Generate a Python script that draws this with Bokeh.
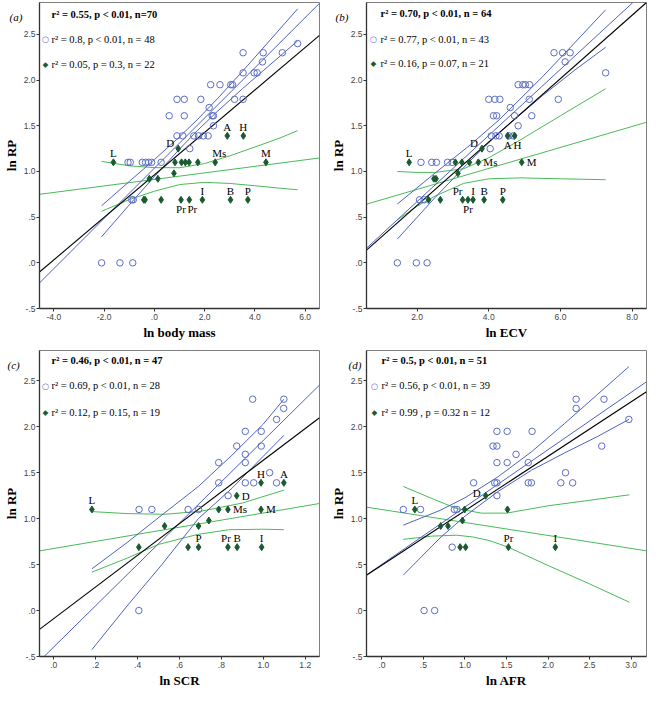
from bokeh.plotting import figure
from bokeh.models import Range1d, FixedTicker, Label, ColumnDataSource, CustomJSTickFormatter
from bokeh.layouts import gridplot
from bokeh.embed import file_html
from bokeh.resources import INLINE
from bokeh.core.properties import value, field

# ------------------------------------------------------------------ data
# Panel (a): ln body mass
A_BLUE_X = [5.70, 3.53, 4.33, 5.09, 4.30, 3.97, 4.09, 3.53, 3.04, 3.11, 2.24, 2.61, 0.90, 1.19, 1.85, 3.19, 3.53,
            0.59, 1.19, 2.30, 2.35, 2.18, 2.35, 0.90, 1.13, 1.57, 1.76, 1.95, 2.14, 1.41,
            -1.05, -0.96, -0.48, -0.35, -0.23, -0.11, 0.27, -0.84, -0.90, -2.10, -1.37, -0.86]
A_BLUE_Y = [2.40, 2.30, 2.30, 2.30, 2.20, 2.08, 2.08, 2.08, 1.95, 1.95, 1.95, 1.95, 1.79, 1.79, 1.79, 1.79, 1.79,
            1.61, 1.61, 1.61, 1.61, 1.70, 1.50, 1.39, 1.39, 1.39, 1.39, 1.39, 1.39, 1.25,
            1.10, 1.10, 1.10, 1.10, 1.10, 1.10, 1.10, 0.69, 0.69, 0.0, 0.0, 0.0]
A_GREEN_X = [-1.63, 0.95, 2.90, 3.54, 2.42, 4.44, 0.82, 1.08, 1.23, 1.38, 1.73, 0.78, -0.20, 0.14,
             -0.42, -0.37, 0.27, 1.06, 1.39, 1.91, 3.03, 3.72]
A_GREEN_Y = [1.10, 1.25, 1.39, 1.39, 1.10, 1.10, 1.10, 1.10, 1.10, 1.10, 1.10, 0.98, 0.92, 0.92,
             0.69, 0.69, 0.69, 0.69, 0.69, 0.69, 0.69, 0.69]
A_LABELS = ["L", "D", "A", "H", "Ms", "M", "", "", "", "", "", "", "", "", "", "", "", "Pr", "Pr", "I", "B", "P"]
A_BLACK_X, A_BLACK_Y = [-4.57, 6.57], [-0.10, 2.49]
A_BFIT_X, A_BFIT_Y = [-4.57, 6.60], [-0.22, 2.85]
A_BCI_X = [-2.10, -1.0, 0.0, 1.0, 1.7, 2.5, 3.5, 4.5, 5.70]
A_BUP_Y = [0.625, 0.89, 1.13, 1.379, 1.565, 1.794, 2.095, 2.406, 2.78]
A_BLO_Y = [0.286, 0.634, 0.944, 1.245, 1.445, 1.656, 1.905, 2.144, 2.43]
A_GFIT_X, A_GFIT_Y = [-4.57, 6.57], [0.75, 1.148]
A_GCI_X = [-2.10, -1.0, 0.0, 1.0, 2.0, 3.0, 4.0, 5.0, 5.70]
A_GUP_Y = [1.11, 1.062, 1.042, 1.041, 1.087, 1.171, 1.268, 1.367, 1.447]
A_GLO_Y = [0.564, 0.692, 0.784, 0.857, 0.881, 0.869, 0.844, 0.817, 0.80]

# Panel (b): ln ECV
B_BLUE_X = [7.26, 5.82, 6.06, 6.27, 6.13, 5.94, 4.82, 4.95, 5.02, 5.14, 5.13, 5.20, 4.60, 4.72, 4.82,
            4.00, 4.17, 4.31, 4.13, 4.22, 4.07, 4.20, 4.29, 4.56, 4.69, 4.04,
            2.11, 2.41, 2.54, 2.85, 2.98, 2.07, 2.20, 1.45, 1.98, 2.28]
B_BLUE_Y = [2.08, 2.30, 2.30, 2.30, 2.20, 1.79, 1.95, 1.95, 1.95, 1.95, 1.79, 1.61, 1.70, 1.61, 1.50,
            1.79, 1.79, 1.79, 1.61, 1.61, 1.39, 1.39, 1.39, 1.39, 1.39, 1.25,
            1.10, 1.10, 1.10, 1.10, 1.10, 0.69, 0.69, 0.0, 0.0, 0.0]
B_GREEN_X = [1.78, 3.81, 4.53, 4.72, 3.71, 4.92, 3.07, 3.25, 3.46, 3.14, 2.47, 2.53, 2.32, 2.65,
             3.27, 3.42, 3.56, 3.87, 4.39]
B_GREEN_Y = [1.10, 1.25, 1.39, 1.39, 1.10, 1.10, 1.10, 1.10, 1.10, 0.98, 0.92, 0.92, 0.69, 0.69,
             0.69, 0.69, 0.69, 0.69, 0.69]
B_LABELS = ["L", "D", "A", "H", "Ms", "M", "", "", "", "", "", "", "", "", "Pr", "Pr", "I", "B", "P"]
B_BLACK_X, B_BLACK_Y = [0.59, 8.40], [0.14, 2.85]
B_BFIT_X, B_BFIT_Y = [0.59, 8.02], [0.16, 2.85]
B_BCI_X = [1.45, 2.5, 3.5, 4.3, 5.5, 6.4, 7.26]
B_BUP_Y = [0.644, 0.982, 1.296, 1.569, 2.037, 2.41, 2.77]
B_BLO_Y = [0.26, 0.714, 1.124, 1.429, 1.831, 2.11, 2.36]
B_GFIT_X, B_GFIT_Y = [0.59, 8.40], [0.642, 1.539]
B_GCI_X = [1.45, 2.0, 2.5, 3.3, 4.0, 4.9, 6.0, 7.26]
B_GUP_Y = [1.0, 0.99, 0.99, 1.03, 1.15, 1.35, 1.61, 1.906]
B_GLO_Y = [0.47, 0.62, 0.73, 0.87, 0.92, 0.93, 0.92, 0.91]

# Panel (c): ln SCR
C_BLUE_X = [1.098, 1.097, 1.063, 0.949, 0.914, 0.990, 0.873, 0.990, 0.914, 0.787, 0.914,
            0.787, 0.914, 0.954, 1.030, 1.063, 0.832, 0.407, 0.468, 0.641, 0.691, 0.406]
C_BLUE_Y = [2.30, 2.20, 2.08, 2.30, 1.95, 1.95, 1.79, 1.79, 1.70, 1.61, 1.61,
            1.39, 1.39, 1.39, 1.50, 1.39, 1.25, 1.10, 1.10, 1.10, 1.10, 0.0]
C_GREEN_X = [0.182, 0.989, 1.098, 0.873, 0.831, 0.787, 0.989, 0.740, 0.529, 0.691,
             0.406, 0.641, 0.691, 0.831, 0.875, 0.992]
C_GREEN_Y = [1.10, 1.39, 1.39, 1.25, 1.10, 1.10, 1.10, 0.98, 0.92, 0.92,
             0.69, 0.69, 0.69, 0.69, 0.69, 0.69]
C_LABELS = ["L", "H", "A", "D", "Ms", "", "M", "", "", "", "", "", "P", "Pr", "B", "I"]
C_BLACK_X, C_BLACK_Y = [-0.068, 1.268], [-0.205, 2.098]
C_BFIT_X, C_BFIT_Y = [-0.046, 1.268], [-0.5, 2.454]
C_BCI_X = [0.182, 0.35, 0.516, 0.69, 0.85, 1.0, 1.098]
C_BUP_Y = [0.454, 0.74, 1.04, 1.35, 1.69, 2.03, 2.30]
C_BLO_Y = [-0.425, 0.05, 0.50, 1.0, 1.33, 1.68, 1.906]
C_GFIT_X, C_GFIT_Y = [-0.068, 1.268], [0.649, 1.165]
C_GUP_X = [0.182, 0.35, 0.53, 0.7, 0.9, 1.098]
C_GUP_Y = [1.077, 1.055, 1.048, 1.08, 1.17, 1.31]
C_GLO_X = [0.182, 0.35, 0.5, 0.684, 0.835, 1.0, 1.098]
C_GLO_Y = [0.418, 0.57, 0.72, 0.827, 0.88, 0.885, 0.88]

# Panel (d): ln AFR
D_BLUE_X = [2.338, 2.673, 2.338, 2.973, 2.646, 1.385, 1.508, 1.808, 1.338, 1.385, 1.615, 1.385, 1.508, 1.762,
            2.210, 1.104, 1.358, 1.385, 1.762, 1.800, 2.154, 2.296, 1.385, 0.258, 0.465, 0.873, 0.904,
            0.846, 0.508, 0.635]
D_BLUE_Y = [2.30, 2.30, 2.20, 2.08, 1.79, 1.95, 1.95, 1.95, 1.79, 1.79, 1.70, 1.61, 1.61, 1.61,
            1.50, 1.39, 1.39, 1.39, 1.39, 1.39, 1.39, 1.39, 1.25, 1.10, 1.10, 1.10, 1.10,
            0.69, 0.0, 0.0]
D_GREEN_X = [0.396, 1.250, 0.996, 1.512, 0.970, 0.708, 0.796, 0.942, 1.008, 1.523, 2.088]
D_GREEN_Y = [1.10, 1.25, 1.10, 1.10, 0.98, 0.92, 0.92, 0.69, 0.69, 0.69, 0.69]
D_LABELS = ["L", "D", "", "", "", "", "", "", "", "Pr", "I"]
D_BLACK_X, D_BLACK_Y = [-0.181, 3.185], [0.386, 2.382]
D_BFIT_X, D_BFIT_Y = [-0.181, 3.185], [0.39, 2.49]
D_BCI_X = [0.258, 0.7, 1.0, 1.4, 1.8, 2.2, 2.6, 2.973]
D_BUP_Y = [0.929, 1.09, 1.227, 1.457, 1.727, 2.036, 2.356, 2.654]
D_BLO_Y = [0.386, 0.79, 1.027, 1.297, 1.527, 1.716, 1.896, 2.08]
D_GFIT_X, D_GFIT_Y = [-0.181, 3.185], [1.125, 0.65]
D_GUP_X = [0.258, 0.6, 0.9, 1.2, 1.5, 2.0, 2.5, 2.98]
D_GUP_Y = [1.35, 1.22, 1.11, 1.06, 1.06, 1.14, 1.20, 1.26]
D_GLO_X = [0.258, 0.6, 0.9, 1.1, 1.3, 1.52, 2.0, 2.5, 2.98]
D_GLO_Y = [0.775, 0.81, 0.82, 0.80, 0.76, 0.69, 0.49, 0.29, 0.09]

# legend / statistics texts
A_STATS = ["r\u00b2 = 0.55, p < 0.01, n=70", "r\u00b2 = 0.8, p < 0.01, n = 48", "r\u00b2 = 0.05, p = 0.3, n = 22"]
B_STATS = ["r\u00b2 = 0.70, p < 0.01, n = 64", "r\u00b2 = 0.77, p < 0.01, n = 43", "r\u00b2 = 0.16, p = 0.07, n = 21"]
C_STATS = ["r\u00b2 = 0.46, p < 0.01, n = 47", "r\u00b2 = 0.69, p < 0.01, n = 28", "r\u00b2 = 0.12, p = 0.15, n = 19"]
D_STATS = ["r\u00b2 = 0.5, p < 0.01, n = 51", "r\u00b2 = 0.56, p < 0.01, n = 39", "r\u00b2 = 0.99 , p = 0.32  n = 12"]

Y_TICKS = [-0.5, 0.0, 0.5, 1.0, 1.5, 2.0, 2.5]
Y_TICK_LABELS = ["-.5", ".0", ".5", "1.0", "1.5", "2.0", "2.5"]
A_XTICKS, A_XLABELS = [-4.0, -2.0, 0.0, 2.0, 4.0, 6.0], ["-4.0", "-2.0", ".0", "2.0", "4.0", "6.0"]
B_XTICKS, B_XLABELS = [2.0, 4.0, 6.0, 8.0], ["2.0", "4.0", "6.0", "8.0"]
C_XTICKS, C_XLABELS = [0.0, 0.2, 0.4, 0.6, 0.8, 1.0, 1.2], [".0", ".2", ".4", ".6", ".8", "1.0", "1.2"]
D_XTICKS, D_XLABELS = [0.0, 0.5, 1.0, 1.5, 2.0, 2.5, 3.0], [".0", ".5", "1.0", "1.5", "2.0", "2.5", "3.0"]

# ------------------------------------------------------------------ styles
BLUE = "#5b6dc6"
BLUE_LINE = "#4f62c0"
GREEN_LINE = "#48bb57"
DGREEN = "#1b5a31"
SERIF = "Liberation Serif"
SANS = "Liberation Sans"
AXIS = "#333333"

# label placement styles: (dx, dy, align, baseline)
STY = {
    "above": (0, -3, "center", "bottom"),
    "above_r": (4, -3, "center", "bottom"),
    "above_l": (-5, -3, "center", "bottom"),
    "above_l2": (-2, -3, "center", "bottom"),
    "below": (0, 3, "center", "top"),
    "below_r": (3, 3, "center", "top"),
    "right": (5, 0, "left", "middle"),
    "left": (-4, -6, "right", "middle"),
    "left2": (-5, -3, "right", "middle"),
}
A_LSTY = ["above", "left", "above", "above", "above_r", "above"] + [""] * 11 + ["below", "below_r", "above", "above", "above"]
B_LSTY = ["above", "left", "below", "below_r", "right", "right"] + [""] * 8 + ["above_l", "below", "above", "above", "above"]
C_LSTY = ["above", "above", "above", "right", "right", "", "right"] + [""] * 5 + ["above", "above_l2", "above", "above"]
D_LSTY = ["above", "left2"] + [""] * 7 + ["above", "above"]

TICK_JS = """
for (let i = 0; i < tv.length; i++) {
    if (Math.abs(tv[i] - tick) < 1e-9) { return tl[i]; }
}
return "";
"""


def tick_formatter(ticks, labels):
    return CustomJSTickFormatter(args=dict(tv=list(ticks), tl=list(labels)), code=TICK_JS)


def make_panel(cfg):
    p = figure(width=cfg["w"], height=cfg["h"],
               x_range=Range1d(*cfg["xr"]), y_range=Range1d(*cfg["yr"]),
               output_backend="svg", toolbar_location=None,
               min_border_left=35, min_border_right=cfg["rb"],
               min_border_top=cfg["tb"], min_border_bottom=cfg["bb"])
    p.grid.visible = False
    p.outline_line_color = "#808080"
    p.outline_line_width = 1
    p.background_fill_color = "white"
    p.border_fill_color = "white"

    # panel tag "(a)" etc. drawn as the figure title, pulled down beside the frame
    p.title.text = cfg["tag"]
    p.title.align = "left"
    p.title.offset = cfg["tag_dx"]
    p.title.text_font = SERIF
    p.title.text_font_size = "11px"
    p.title.text_font_style = "italic"
    p.title.text_color = "black"
    try:
        p.title.standoff = -40
    except Exception:
        p.title.standoff = 0

    p.xaxis.ticker = FixedTicker(ticks=cfg["xticks"])
    p.xaxis.formatter = tick_formatter(cfg["xticks"], cfg["xlabels"])
    p.yaxis.ticker = FixedTicker(ticks=Y_TICKS)
    p.yaxis.formatter = tick_formatter(Y_TICKS, Y_TICK_LABELS)
    p.xaxis.axis_label = cfg["xlabel"]
    p.yaxis.axis_label = "ln RP"
    for ax in (p.xaxis[0], p.yaxis[0]):
        ax.axis_line_color = AXIS
        ax.axis_line_width = 1.3
        ax.major_tick_line_color = AXIS
        ax.major_tick_in = 0
        ax.major_tick_out = 3
        ax.minor_tick_line_color = None
        ax.major_label_text_font = SANS
        ax.major_label_text_font_size = "8.5px"
        ax.major_label_text_color = "#444444"
        ax.axis_label_text_font = SERIF
        ax.axis_label_text_font_style = "bold"
        ax.axis_label_text_font_size = "13px"
        ax.axis_label_text_color = "black"
        ax.axis_label_standoff = 2
    p.xaxis.major_label_standoff = 2
    p.yaxis.major_label_standoff = 1

    # confidence bands and fit lines
    p.line(cfg["gup"][0], cfg["gup"][1], line_color=GREEN_LINE, line_width=1)
    p.line(cfg["glo"][0], cfg["glo"][1], line_color=GREEN_LINE, line_width=1)
    p.line(cfg["gfit"][0], cfg["gfit"][1], line_color=GREEN_LINE, line_width=1)
    p.line(cfg["bup"][0], cfg["bup"][1], line_color=BLUE_LINE, line_width=1)
    p.line(cfg["blo"][0], cfg["blo"][1], line_color=BLUE_LINE, line_width=1)
    p.line(cfg["bfit"][0], cfg["bfit"][1], line_color=BLUE_LINE, line_width=1)
    p.line(cfg["black"][0], cfg["black"][1], line_color="black", line_width=1.1)

    # points
    p.scatter(cfg["blue"][0], cfg["blue"][1], marker="circle", size=6.5,
              fill_color=None, line_color=BLUE, line_width=1)
    p.scatter(cfg["green"][0], cfg["green"][1], marker="diamond", size=7,
              fill_color=DGREEN, line_color=DGREEN, line_width=1)

    # point labels
    gx, gy = cfg["green"]
    rows = [(gx[i], gy[i], t, cfg["lsty"][i]) for i, t in enumerate(cfg["labels"]) if t]
    src = ColumnDataSource(dict(
        x=[r[0] for r in rows], y=[r[1] for r in rows], t=[r[2] for r in rows],
        dx=[STY[r[3]][0] for r in rows], dy=[STY[r[3]][1] for r in rows],
        al=[STY[r[3]][2] for r in rows], bl=[STY[r[3]][3] for r in rows]))
    p.text(x="x", y="y", text="t", source=src, x_offset=field("dx"), y_offset=field("dy"),
           text_align=field("al"), text_baseline=field("bl"),
           text_font=value(SERIF), text_font_size=value("11px"), text_color="black")

    # statistics legend
    lx_text, lx_mark = cfg["lx"]
    ly = cfg["ly"]
    stats = cfg["stats"]
    p.add_layout(Label(x=lx_text, y=ly[0], x_units="screen", y_units="data", text=stats[0],
                       text_font=SERIF, text_font_size="10.5px", text_font_style="bold",
                       text_baseline="middle", text_align="left", text_color="black"))
    for k, (mk, col, fs) in enumerate([("\u25cb", BLUE, "8.5px"), ("\u25c6", DGREEN, "7.5px")]):
        p.add_layout(Label(x=lx_mark, y=ly[k + 1], x_units="screen", y_units="data", text=mk,
                           text_font="DejaVu Sans", text_font_size=fs, text_color=col,
                           text_baseline="middle", text_align="center"))
        p.add_layout(Label(x=lx_text, y=ly[k + 1], x_units="screen", y_units="data", text=stats[k + 1],
                           text_font=SERIF, text_font_size="10.5px",
                           text_baseline="middle", text_align="left", text_color="black"))
    return p


pa = make_panel(dict(w=327, h=344, rb=8, tb=2, bb=36, xr=(-4.57, 6.57), yr=(-0.5, 2.85),
                     xticks=A_XTICKS, xlabels=A_XLABELS, xlabel="ln body mass",
                     blue=(A_BLUE_X, A_BLUE_Y), green=(A_GREEN_X, A_GREEN_Y),
                     labels=A_LABELS, lsty=A_LSTY,
                     black=(A_BLACK_X, A_BLACK_Y), bfit=(A_BFIT_X, A_BFIT_Y),
                     bup=(A_BCI_X, A_BUP_Y), blo=(A_BCI_X, A_BLO_Y),
                     gfit=(A_GFIT_X, A_GFIT_Y), gup=(A_GCI_X, A_GUP_Y), glo=(A_GCI_X, A_GLO_Y),
                     stats=A_STATS, lx=(12, 6), ly=(2.72, 2.446, 2.169), tag="(a)", tag_dx=-30))
pb = make_panel(dict(w=322, h=344, rb=3, tb=2, bb=36, xr=(0.59, 8.40), yr=(-0.5, 2.85),
                     xticks=B_XTICKS, xlabels=B_XLABELS, xlabel="ln ECV",
                     blue=(B_BLUE_X, B_BLUE_Y), green=(B_GREEN_X, B_GREEN_Y),
                     labels=B_LABELS, lsty=B_LSTY,
                     black=(B_BLACK_X, B_BLACK_Y), bfit=(B_BFIT_X, B_BFIT_Y),
                     bup=(B_BCI_X, B_BUP_Y), blo=(B_BCI_X, B_BLO_Y),
                     gfit=(B_GFIT_X, B_GFIT_Y), gup=(B_GCI_X, B_GUP_Y), glo=(B_GCI_X, B_GLO_Y),
                     stats=B_STATS, lx=(14, 7), ly=(2.73, 2.45, 2.18), tag="(b)", tag_dx=-31))
pc = make_panel(dict(w=327, h=346, rb=8, tb=6, bb=34, xr=(-0.068, 1.268), yr=(-0.5, 2.83),
                     xticks=C_XTICKS, xlabels=C_XLABELS, xlabel="ln SCR",
                     blue=(C_BLUE_X, C_BLUE_Y), green=(C_GREEN_X, C_GREEN_Y),
                     labels=C_LABELS, lsty=C_LSTY,
                     black=(C_BLACK_X, C_BLACK_Y), bfit=(C_BFIT_X, C_BFIT_Y),
                     bup=(C_BCI_X, C_BUP_Y), blo=(C_BCI_X, C_BLO_Y),
                     gfit=(C_GFIT_X, C_GFIT_Y), gup=(C_GUP_X, C_GUP_Y), glo=(C_GLO_X, C_GLO_Y),
                     stats=C_STATS, lx=(12, 6), ly=(2.725, 2.446, 2.16), tag="(c)", tag_dx=-32))
pd_ = make_panel(dict(w=322, h=346, rb=3, tb=6, bb=34, xr=(-0.185, 3.185), yr=(-0.5, 2.83),
                      xticks=D_XTICKS, xlabels=D_XLABELS, xlabel="ln AFR",
                      blue=(D_BLUE_X, D_BLUE_Y), green=(D_GREEN_X, D_GREEN_Y),
                      labels=D_LABELS, lsty=D_LSTY,
                      black=(D_BLACK_X, D_BLACK_Y), bfit=(D_BFIT_X, D_BFIT_Y),
                      bup=(D_BCI_X, D_BUP_Y), blo=(D_BCI_X, D_BLO_Y),
                      gfit=(D_GFIT_X, D_GFIT_Y), gup=(D_GUP_X, D_GUP_Y), glo=(D_GLO_X, D_GLO_Y),
                      stats=D_STATS, lx=(15, 8), ly=(2.725, 2.446, 2.16), tag="(d)", tag_dx=-18))

grid = gridplot([[pa, pb], [pc, pd_]], toolbar_location=None)
open("out.html", "w").write(file_html(grid, INLINE))
